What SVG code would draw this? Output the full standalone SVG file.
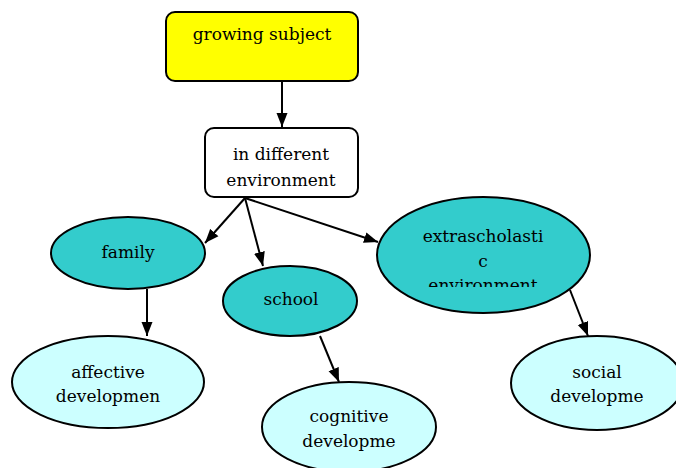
<svg xmlns="http://www.w3.org/2000/svg" width="676" height="468" viewBox="0 0 676 468">
<style>
text{font-family:'DejaVu Serif','Liberation Serif',serif;font-size:17px;fill:#000;text-anchor:middle}
.n{stroke:#000;stroke-width:2}
.dark{fill:#33cccc}
.light{fill:#ccffff}
.e{stroke:#000;stroke-width:2;fill:none;marker-end:url(#ah)}
</style>
<defs>
<marker id="ah" markerWidth="14" markerHeight="12" viewBox="0 0 14 12" refX="14" refY="6" orient="auto" markerUnits="userSpaceOnUse">
<path d="M0,0.5 L14,6 L0,11.5 Z" fill="#000"/>
</marker>
<clipPath id="cx"><rect x="370" y="190" width="240" height="97"/></clipPath>
</defs>
<rect width="676" height="468" fill="#fff"/>
<g id="edges">
<line class="e" x1="282" y1="81" x2="282" y2="127"/>
<line class="e" x1="245" y1="198" x2="205" y2="243"/>
<line class="e" x1="245" y1="198" x2="263" y2="266"/>
<line class="e" x1="245" y1="198" x2="378" y2="242"/>
<line class="e" x1="147" y1="289" x2="147" y2="336"/>
<line class="e" x1="320" y1="336" x2="339" y2="382"/>
<line class="e" x1="570" y1="290" x2="588" y2="336"/>
</g>
<g id="growing">
<rect class="n" x="166" y="12" width="192" height="69" rx="9" fill="#ffff00"/>
<text x="262" y="40">growing subject</text>
</g>
<g id="indifferent">
<rect class="n" x="205" y="128" width="153" height="69" rx="9" fill="#fff"/>
<text x="281" y="160">in different</text>
<text x="281" y="186">environment</text>
</g>
<g id="family">
<ellipse class="n dark" cx="128" cy="253" rx="77" ry="36"/>
<text x="128" y="258">family</text>
</g>
<g id="school">
<ellipse class="n dark" cx="290" cy="301" rx="67" ry="35"/>
<text x="291" y="305">school</text>
</g>
<g id="extrascholastic">
<ellipse class="n dark" cx="483.500" cy="255" rx="106.500" ry="58"/>
<g clip-path="url(#cx)">
<text x="483" y="242">extrascholasti</text>
<text x="483" y="267">c</text>
<text x="483" y="291">environment</text>
</g>
</g>
<g id="affective">
<ellipse class="n light" cx="108" cy="382" rx="96" ry="46"/>
<text x="108" y="378">affective</text>
<text x="108" y="402">developmen</text>
</g>
<g id="cognitive">
<ellipse class="n light" cx="349" cy="427" rx="87" ry="45"/>
<text x="349" y="422">cognitive</text>
<text x="349" y="447">developme</text>
</g>
<g id="social">
<ellipse class="n light" cx="597" cy="383" rx="86" ry="47"/>
<text x="597" y="378">social</text>
<text x="597" y="402">developme</text>
</g>
</svg>
